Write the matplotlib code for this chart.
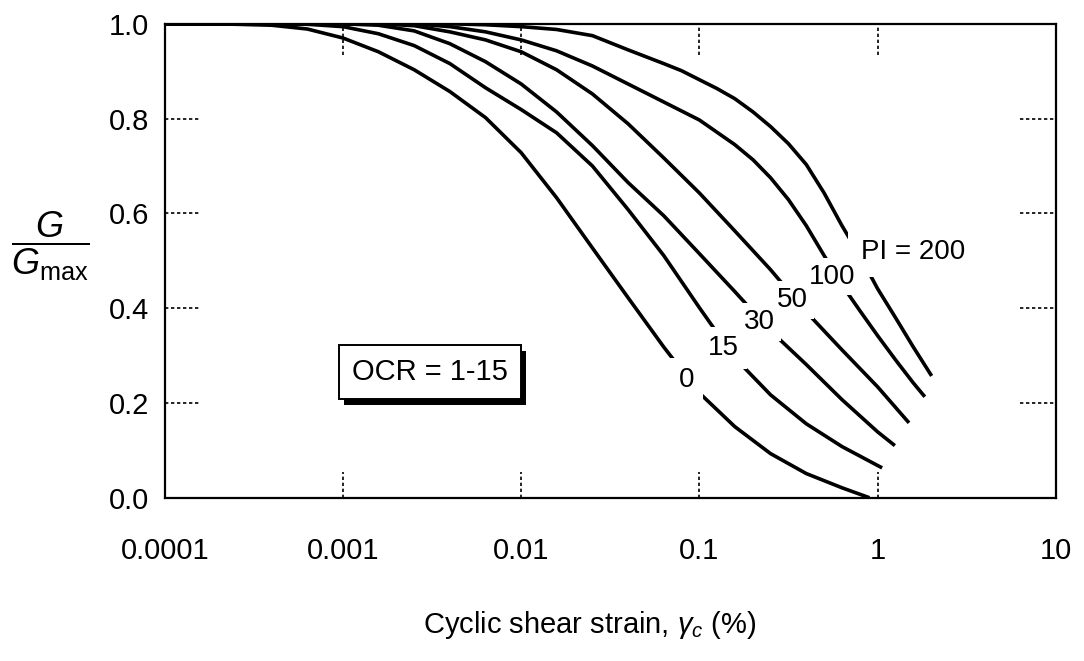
#-----------------------------------------------------------------
# G/Gmax vs cyclic shear strain for different plasticity indices
#-----------------------------------------------------------------
import matplotlib.pyplot as plt
import matplotlib.patheffects as pe
import matplotlib.transforms as mtransforms
from matplotlib.ticker import NullLocator

plt.rcParams['font.family'] = ['Liberation Sans', 'DejaVu Sans']
plt.rcParams['mathtext.fontset'] = 'custom'
plt.rcParams['mathtext.rm'] = 'Liberation Sans'
plt.rcParams['mathtext.it'] = 'Liberation Sans:italic'

strain_pi0 = [0.0001, 0.000158, 0.000251, 0.000398, 0.000631, 0.001, 0.00158,
              0.00251, 0.00398, 0.00631, 0.01, 0.0158, 0.0251, 0.0398, 0.0631,
              0.1, 0.158, 0.251, 0.398, 0.631, 0.9]
ratio_pi0 = [1.0, 1.0, 0.999, 0.997, 0.989, 0.970, 0.941,
             0.903, 0.857, 0.802, 0.728, 0.633, 0.527, 0.422, 0.318,
             0.221, 0.150, 0.093, 0.051, 0.021, 0.0]

strain_pi15 = [0.0001, 0.000251, 0.000398, 0.000631, 0.001, 0.00158,
               0.00251, 0.00398, 0.00631, 0.01, 0.0158, 0.0251, 0.0398, 0.0631,
               0.1, 0.158, 0.251, 0.398, 0.631, 1.0, 1.06]
ratio_pi15 = [1.0, 1.0, 1.0, 0.999, 0.994, 0.979,
              0.954, 0.916, 0.865, 0.819, 0.770, 0.700, 0.608, 0.511,
              0.401, 0.295, 0.217, 0.156, 0.108, 0.068, 0.063]

strain_pi30 = [0.0001, 0.000631, 0.001, 0.00158, 0.00251, 0.00398, 0.00631,
               0.01, 0.0158, 0.0251, 0.0398, 0.0631, 0.1, 0.158, 0.251,
               0.398, 0.631, 1.0, 1.25]
ratio_pi30 = [1.0, 1.0, 1.0, 0.997, 0.985, 0.958, 0.920,
              0.873, 0.814, 0.743, 0.665, 0.595, 0.515, 0.435, 0.352,
              0.281, 0.207, 0.139, 0.110]

strain_pi50 = [0.0001, 0.001, 0.00158, 0.00251, 0.00398, 0.00631, 0.01,
               0.0158, 0.0251, 0.0398, 0.0631, 0.1, 0.158, 0.251, 0.398,
               0.631, 1.0, 1.5]
ratio_pi50 = [1.0, 1.0, 1.0, 0.996, 0.983, 0.966, 0.941,
              0.903, 0.852, 0.789, 0.717, 0.643, 0.563, 0.481, 0.392,
              0.312, 0.234, 0.158]

strain_pi100 = [0.0001, 0.00158, 0.00251, 0.00398, 0.00631, 0.01, 0.0158,
                0.0251, 0.0398, 0.0631, 0.1, 0.158, 0.2, 0.251, 0.316, 0.398,
                0.501, 0.631, 0.794, 1.0, 1.26, 1.58, 1.84]
ratio_pi100 = [1.0, 1.0, 1.0, 0.994, 0.983, 0.966, 0.943,
               0.911, 0.873, 0.835, 0.797, 0.745, 0.713, 0.675, 0.629, 0.574,
               0.511, 0.449, 0.395, 0.342, 0.291, 0.243, 0.213]

strain_pi200 = [0.0001, 0.00251, 0.00398, 0.00631, 0.01, 0.0158, 0.0251,
                0.0398, 0.0631, 0.0794, 0.1, 0.126, 0.158, 0.2, 0.251, 0.316,
                0.398, 0.501, 0.631, 0.794, 1.0, 1.26, 1.58, 2.01]
ratio_pi200 = [1.0, 1.0, 1.0, 0.998, 0.994, 0.988, 0.975,
               0.945, 0.916, 0.901, 0.882, 0.863, 0.842, 0.814, 0.783, 0.747,
               0.703, 0.643, 0.574, 0.511, 0.441, 0.380, 0.319, 0.257]

curve_labels = ['0', '15', '30', '50', '100', 'PI = 200']
label_strain = [0.085, 0.137, 0.218, 0.334, 0.553, 1.58]
label_ratio = [0.249, 0.316, 0.371, 0.418, 0.466, 0.519]
label_gap = [0.32, 0.28, 0.22, 0.22, 0.2, 0.45]

xtick_vals = [0.0001, 0.001, 0.01, 0.1, 1, 10]
xtick_labels = ['0.0001', '0.001', '0.01', '0.1', '1', '10']
ytick_vals = [0.0, 0.2, 0.4, 0.6, 0.8, 1.0]
ytick_labels = ['0.0', '0.2', '0.4', '0.6', '0.8', '1.0']

fig = plt.figure(figsize=(10.84, 6.61), dpi=100)
ax = fig.add_axes([0.152, 0.247, 0.822, 0.717])

curves = [(strain_pi0, ratio_pi0), (strain_pi15, ratio_pi15),
          (strain_pi30, ratio_pi30), (strain_pi50, ratio_pi50),
          (strain_pi100, ratio_pi100), (strain_pi200, ratio_pi200)]
for xs, ys in curves:
    ax.plot(xs, ys, color='black', lw=2.6, solid_joinstyle='round',
            solid_capstyle='butt', zorder=3)

# curve labels sit in a gap of the line: white box layer, then the text
for lab, xs, ys, gp in zip(curve_labels, label_strain, label_ratio, label_gap):
    ax.text(xs, ys, lab, ha='center', va='center', fontsize=20, zorder=4,
            color='none',
            bbox=dict(boxstyle='square,pad=%.2f' % gp, fc='white', ec='none'))
    ax.text(xs, ys, lab, ha='center', va='center', fontsize=20, zorder=6)

ax.set_xscale('log')
ax.set_xlim(0.0001, 10)
ax.set_ylim(0, 1)
ax.set_xticks(xtick_vals)
ax.set_xticklabels(xtick_labels)
ax.set_yticks(ytick_vals)
ax.set_yticklabels(ytick_labels)
ax.xaxis.set_minor_locator(NullLocator())
ax.tick_params(axis='both', length=0, labelsize=21)
ax.tick_params(axis='x', pad=28)
ax.tick_params(axis='y', pad=11)
for s in ax.spines.values():
    s.set_linewidth(1.6)

# short dashed tick marks inside the frame
dash = (0, (2.0, 1.6))
ty = mtransforms.blended_transform_factory(ax.transAxes, ax.transData)
for v in [0.2, 0.4, 0.6, 0.8]:
    ax.plot([0, 0.04], [v, v], transform=ty, color='black', lw=1.2, ls=dash)
    ax.plot([0.96, 1], [v, v], transform=ty, color='black', lw=1.2, ls=dash)
tx = mtransforms.blended_transform_factory(ax.transData, ax.transAxes)
for v in [0.001, 0.01, 0.1, 1]:
    ax.plot([v, v], [0.935, 1], transform=tx, color='black', lw=1.2, ls=dash)
    ax.plot([v, v], [0, 0.055], transform=tx, color='black', lw=1.2, ls=dash)

# OCR box with drop shadow
t = ax.text(0.00307, 0.266, 'OCR = 1-15', ha='center', va='center', fontsize=21,
            zorder=5,
            bbox=dict(boxstyle='square,pad=0.45', fc='white', ec='black', lw=1.4))
t.get_bbox_patch().set_path_effects([
    pe.SimplePatchShadow(offset=(3.5, -4.5), shadow_rgbFace='black', alpha=1.0),
    pe.Normal()])

fig.text(590 / 1084, 1 - 625 / 661, r'Cyclic shear strain, $\gamma_c$ (%)',
         ha='center', va='center', fontsize=21)
fig.text(50 / 1084, 1 - 246 / 661, r'$\dfrac{G}{G_{\mathrm{max}}}$',
         ha='center', va='center', fontsize=26)

fig.savefig('out.png', dpi=100, facecolor='white')
